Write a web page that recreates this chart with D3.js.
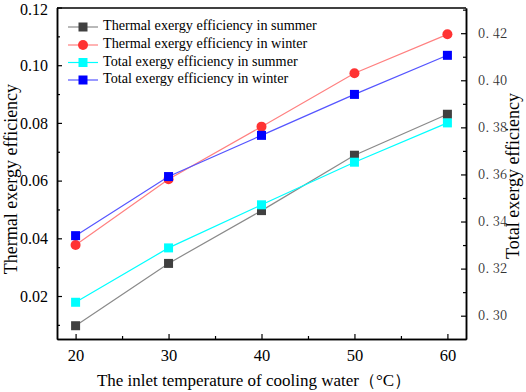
<!DOCTYPE html>
<html><head><meta charset="utf-8">
<script src="https://cdn.jsdelivr.net/npm/d3@7"></script>
<style>body{margin:0;background:#fff}svg{display:block}</style>
</head><body>
<script>
const temps = [20, 30, 40, 50, 60];
const thermalSummer = [0.0097, 0.0313, 0.0496, 0.0688, 0.0830];
const thermalWinter = [0.0377, 0.0605, 0.0787, 0.0972, 0.1107];
const totalSummer = [0.3057, 0.3288, 0.3471, 0.3652, 0.3819];
const totalWinter = [0.3340, 0.3591, 0.3766, 0.3940, 0.4106];
const leftTicks = [0.02, 0.04, 0.06, 0.08, 0.10, 0.12];
const leftMinor = [0.01, 0.03, 0.05, 0.07, 0.09, 0.11];
const rightTicks = [0.30, 0.32, 0.34, 0.36, 0.38, 0.40, 0.42];
const rightMinor = [0.29, 0.31, 0.33, 0.35, 0.37, 0.39, 0.41, 0.43];
const xTicks = [20, 30, 40, 50, 60];
const xMinor = [25, 35, 45, 55];
const legendLabels = ["Thermal exergy efficiency in summer","Thermal exergy efficiency in winter","Total exergy efficiency in summer","Total exergy efficiency in winter"];

const W = 526, H = 392;
const L = 57, R = 466, T = 8, B = 339;
const serif = '"Liberation Serif","Times New Roman",serif';
const song = '"Noto Serif CJK SC","Liberation Serif",serif';
const svg = d3.select("body").append("svg").attr("width", W).attr("height", H);
const x = d3.scaleLinear().domain([18, 62]).range([L, R]);
const yL = d3.scaleLinear().domain([0.0051, 0.12]).range([B, 7.5]);
const yR = d3.scaleLinear().domain([0.2901, 0.4307]).range([B, T]);

const series = [
  {vals: thermalSummer, y: yL, line: "#8a8a8a", mark: "#404040", shape: "sq"},
  {vals: thermalWinter, y: yL, line: "#ff8080", mark: "#ff3333", shape: "circ"},
  {vals: totalSummer, y: yR, line: "#00ffff", mark: "#00ffff", shape: "sq"},
  {vals: totalWinter, y: yR, line: "#5555ff", mark: "#0000ff", shape: "sq"}
];

series.forEach(s => {
  const data = temps.map((t, i) => [t, s.vals[i]]);
  svg.append("path").datum(data)
    .attr("fill", "none").attr("stroke", s.line).attr("stroke-width", 1.2)
    .attr("d", d3.line().x(d => x(d[0])).y(d => s.y(d[1])));
  data.forEach(d => {
    if (s.shape === "sq") {
      svg.append("rect").attr("x", x(d[0]) - 4.5).attr("y", s.y(d[1]) - 4.5)
        .attr("width", 9).attr("height", 9).attr("fill", s.mark);
    } else {
      svg.append("circle").attr("cx", x(d[0])).attr("cy", s.y(d[1])).attr("r", 5).attr("fill", s.mark);
    }
  });
});

// axes
const gL = svg.append("g").attr("transform", `translate(${L},0)`)
  .call(d3.axisLeft(yL).tickValues(leftTicks).tickSizeInner(-5).tickSizeOuter(0).tickPadding(9).tickFormat(d3.format(".2f")));
gL.append("g").call(d3.axisLeft(yL).tickValues(leftMinor).tickSizeInner(-3).tickSizeOuter(0).tickFormat(""));
const gR = svg.append("g").attr("transform", `translate(${R},0)`)
  .call(d3.axisRight(yR).tickValues(rightTicks).tickSizeInner(-5).tickSizeOuter(0).tickPadding(12).tickFormat(d => d3.format(".2f")(d).replace(".", ". ")));
gR.append("g").call(d3.axisRight(yR).tickValues(rightMinor.filter(v => yR(v) >= T && yR(v) <= B)).tickSizeInner(-3).tickSizeOuter(0).tickFormat(""));
const gB = svg.append("g").attr("transform", `translate(0,${B})`)
  .call(d3.axisBottom(x).tickValues(xTicks).tickSizeInner(-5).tickSizeOuter(0).tickPadding(10).tickFormat(d3.format("d")));
gB.append("g").call(d3.axisBottom(x).tickValues(xMinor).tickSizeInner(-3).tickSizeOuter(0).tickFormat(""));

[gL, gR, gB].forEach(g => {
  g.selectAll("path.domain").attr("stroke", "#000").attr("stroke-width", 1.5);
  g.selectAll("line").attr("stroke", "#000").attr("stroke-width", 1.2);
});
gL.selectAll("text").style("font-family", serif).attr("font-size", 16).attr("fill", "#000")
  .attr("dy", d => d === 0.12 ? "0.45em" : "0.32em");
gB.selectAll("text").style("font-family", serif).attr("font-size", 16.5).attr("fill", "#000");
gR.selectAll("text").style("font-family", song).attr("font-size", 13).attr("fill", "#333");
// top frame
svg.append("line").attr("x1", L).attr("x2", R).attr("y1", T).attr("y2", T).attr("stroke", "#000").attr("stroke-width", 1.5);

// titles
svg.append("text").attr("transform", `translate(13,179) rotate(-90)`)
  .attr("text-anchor", "middle").attr("dominant-baseline", "middle")
  .style("font-family", serif).attr("font-size", 18).text("Thermal exergy efficiency");
svg.append("text").attr("transform", `translate(515,176) rotate(-90)`)
  .attr("text-anchor", "middle").attr("dominant-baseline", "middle")
  .style("font-family", serif).attr("font-size", 18).text("Total exergy efficiency");
svg.append("text").attr("x", 254).attr("y", 386).attr("text-anchor", "middle")
  .style("font-family", serif).attr("font-size", 17).text("The inlet temperature of cooling water（°C）");

// legend
const ly = [27, 45, 62.5, 80];
series.forEach((s, i) => {
  const g = svg.append("g");
  g.append("line").attr("x1", 68).attr("x2", 98).attr("y1", ly[i]).attr("y2", ly[i]).attr("stroke", s.line).attr("stroke-width", 1.2);
  if (s.shape === "sq") g.append("rect").attr("x", 83 - 4.5).attr("y", ly[i] - 4.5).attr("width", 9).attr("height", 9).attr("fill", s.mark);
  else g.append("circle").attr("cx", 83).attr("cy", ly[i]).attr("r", 5).attr("fill", s.mark);
  g.append("text").attr("x", 103).attr("y", ly[i]).attr("dominant-baseline", "middle")
    .style("font-family", serif).attr("font-size", 14.2).text(legendLabels[i]);
});
</script>
</body></html>
